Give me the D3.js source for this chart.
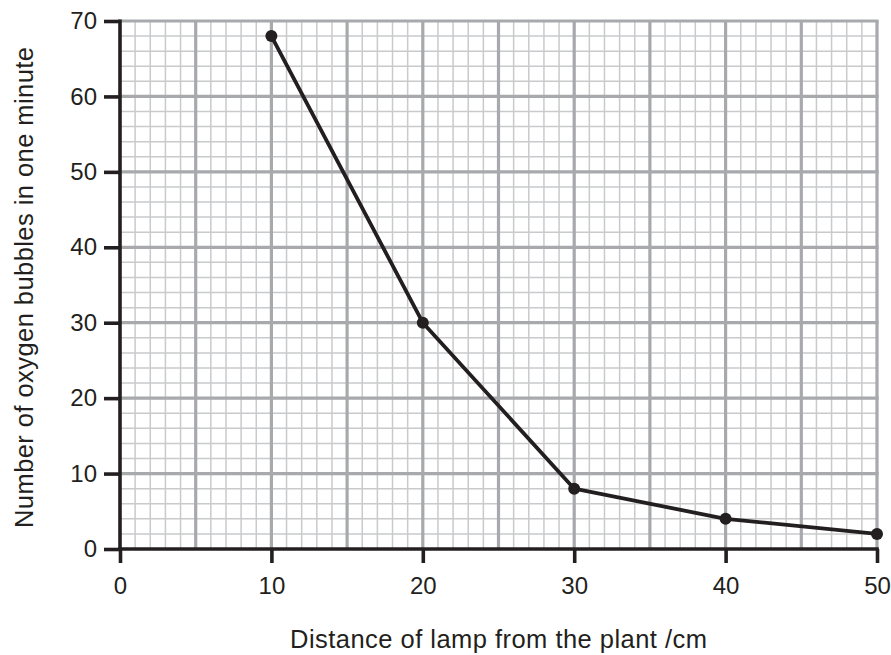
<!DOCTYPE html>
<html><head><meta charset="utf-8">
<script src="https://cdn.jsdelivr.net/npm/d3@7"></script>
<style>body{margin:0;background:#fff}svg{display:block}</style>
</head><body>
<script>
const distance = [10, 20, 30, 40, 50];
const bubbles = [68, 30, 8, 4, 2];
const xTicks = [0, 10, 20, 30, 40, 50];
const yTicks = [0, 10, 20, 30, 40, 50, 60, 70];
const xTitle = "Distance of lamp from the plant /cm";
const yTitle = "Number of oxygen bubbles in one minute";

const W = 891, H = 655;
const svg = d3.select("body").append("svg").attr("width", W).attr("height", H);
const x = d3.scaleLinear().domain([0, 50]).range([120, 877]);
const y = d3.scaleLinear().domain([0, 70]).range([549, 21]);
const font = "Liberation Sans, Arial, sans-serif";

const grid = svg.append("g");
// minor grid
grid.selectAll(".mx").data(d3.range(0, 51, 1).filter(d => d % 5 !== 0)).join("line")
  .attr("x1", d => x(d)).attr("x2", d => x(d)).attr("y1", y(0)).attr("y2", y(70))
  .attr("stroke", "#c9cacc").attr("stroke-width", 1.5);
grid.selectAll(".my").data(d3.range(0, 71, 2).filter(d => d % 10 !== 0)).join("line")
  .attr("y1", d => y(d)).attr("y2", d => y(d)).attr("x1", x(0)).attr("x2", x(50))
  .attr("stroke", "#c9cacc").attr("stroke-width", 1.5);
// major grid
grid.selectAll(".Mx").data(d3.range(5, 51, 5)).join("line")
  .attr("x1", d => x(d)).attr("x2", d => x(d)).attr("y1", y(0)).attr("y2", y(70))
  .attr("stroke", "#a8a9ac").attr("stroke-width", 3.2);
grid.selectAll(".My").data(d3.range(10, 71, 10)).join("line")
  .attr("y1", d => y(d)).attr("y2", d => y(d)).attr("x1", x(0)).attr("x2", x(50) + 1.6)
  .attr("stroke", "#a8a9ac").attr("stroke-width", 3.2);

// axes
const ax = svg.append("g").attr("transform", `translate(0,${y(0)})`)
  .call(d3.axisBottom(x).tickValues(xTicks).tickSize(14).tickPadding(14).tickSizeOuter(0));
const ay = svg.append("g").attr("transform", `translate(${x(0)},0)`)
  .call(d3.axisLeft(y).tickValues(yTicks).tickSize(16).tickPadding(7).tickSizeOuter(0));
[ax, ay].forEach(g => {
  g.attr("font-size", null).attr("font-family", null);
  g.select(".domain").attr("stroke", "#231f20").attr("stroke-width", 3.6);
  g.selectAll(".tick line").attr("stroke", "#231f20").attr("stroke-width", 3.6);
  g.selectAll(".tick text").style("font-family", font).style("font-size", "24px").attr("fill", "#231f20");
});
ay.select(".domain").attr("d", `M0,${y(0)+1.8}V${y(70)-1.6}`);
ax.select(".domain").attr("d", `M${x(0)-1.8},0H${x(50)+1.8}`);

// line
const line = d3.line().x((d, i) => x(distance[i])).y(d => y(d));
svg.append("path").datum(bubbles).attr("d", line).attr("fill", "none")
  .attr("stroke", "#231f20").attr("stroke-width", 3.8).attr("stroke-linejoin", "round");
svg.selectAll(".pt").data(bubbles).join("circle")
  .attr("cx", (d, i) => x(distance[i])).attr("cy", d => y(d)).attr("r", 6).attr("fill", "#231f20");

// titles
svg.append("text").attr("x", 498.5).attr("y", 648).attr("text-anchor", "middle")
  .attr("font-family", font).attr("font-size", 25.5).attr("fill", "#231f20")
  .attr("textLength", 417).attr("lengthAdjust", "spacing").text(xTitle);
svg.append("text").attr("transform", `translate(33,287.5) rotate(-90)`)
  .attr("text-anchor", "middle").attr("font-family", font).attr("font-size", 25.5)
  .attr("textLength", 481).attr("lengthAdjust", "spacing")
  .attr("fill", "#231f20").text(yTitle);
</script>
</body></html>
